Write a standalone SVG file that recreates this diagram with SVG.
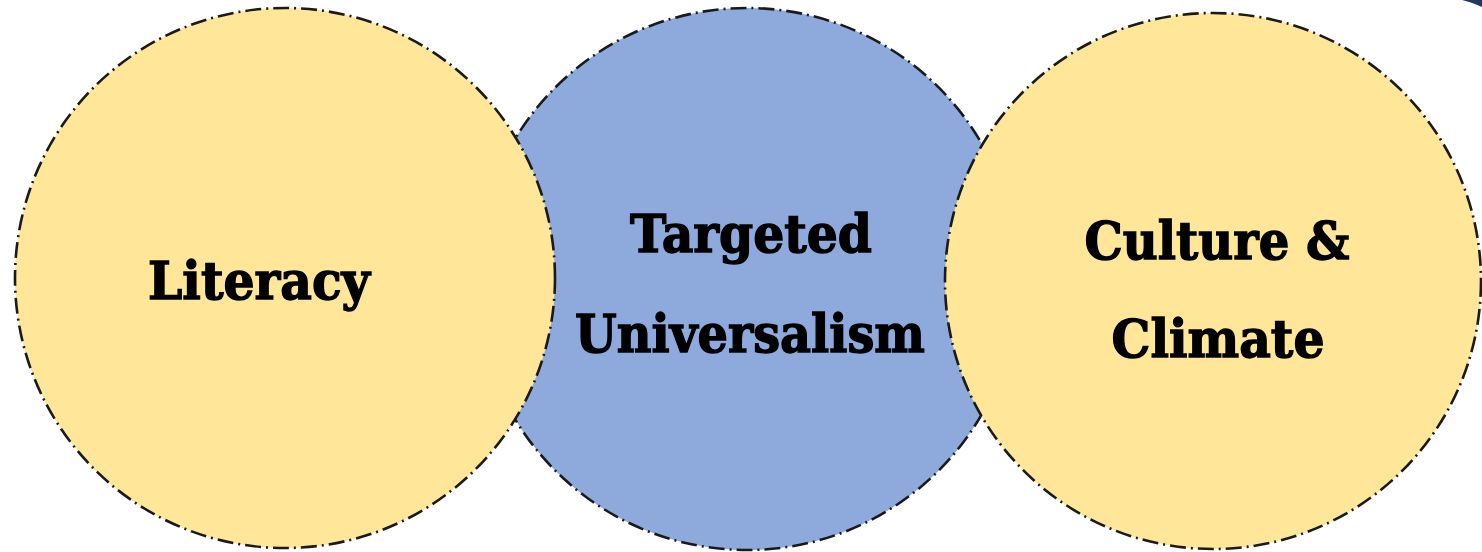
<svg xmlns="http://www.w3.org/2000/svg" width="1482" height="552" viewBox="0 0 1482 552">
<style>
.c{stroke:#1a1a1a;stroke-width:2.6;stroke-dasharray:16 5 2 5;}
.y{fill:#FFE699;}
.b{fill:#8EA9DB;}
.t{font-family:"DejaVu Serif","Liberation Serif",serif;font-weight:bold;font-size:52px;fill:#000;stroke:#000;stroke-width:1.4;text-anchor:middle;}
</style>
<rect width="1482" height="552" fill="#fff"/>
<path d="M1462 0 L1482 0 L1482 7 Q1471 2 1462 0 Z" fill="#1F3864"/>
<g id="targeted-universalism">
<circle class="c b" cx="747" cy="279" r="271"/>
<text class="t" x="751" y="252" textLength="242" lengthAdjust="spacingAndGlyphs">Targeted</text>
<text class="t" x="750" y="352" textLength="350" lengthAdjust="spacingAndGlyphs">Universalism</text>
</g>
<g id="literacy">
<circle class="c y" cx="285" cy="278" r="270"/>
<text class="t" x="259" y="299" textLength="222" lengthAdjust="spacingAndGlyphs">Literacy</text>
</g>
<g id="culture-climate">
<circle class="c y" cx="1213" cy="281" r="268"/>
<text class="t" x="1217" y="259" textLength="265" lengthAdjust="spacingAndGlyphs">Culture &amp;</text>
<text class="t" x="1218" y="357" textLength="213" lengthAdjust="spacingAndGlyphs">Climate</text>
</g>
<g id="connectors"/>
</svg>
